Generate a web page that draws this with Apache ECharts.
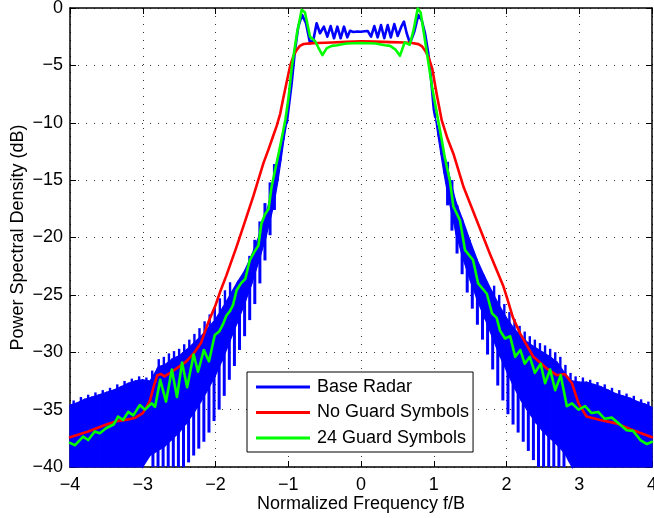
<!DOCTYPE html>
<html><head><meta charset="utf-8">
<script src="https://cdn.jsdelivr.net/npm/echarts@6/dist/echarts.min.js"></script>
<style>html,body{margin:0;padding:0;background:#fff}#c{width:654px;height:518px}</style>
</head><body><div id="c"></div>
<script>
// ---- tick labels ----
const xTickLabels = [-4, -3, -2, -1, 0, 1, 2, 3, 4];
const yTickLabels = [-40, -35, -30, -25, -20, -15, -10, -5, 0];
const legendNames = ['Base Radar', 'No Guard Symbols', '24 Guard Symbols'];

// ---- No Guard Symbols (red) ----
const redX = [-4.0,-3.75,-3.5,-3.35,-3.2,-3.1,-3.0,-2.95,-2.9,-2.85,-2.8,-2.75,-2.7,-2.65,-2.6,-2.5,-2.4,-2.3,-2.2,-2.1,-2.0,-1.94,-1.85,-1.71,-1.6,-1.48,-1.34,-1.27,-1.21,-1.16,-1.11,-1.07,-1.02,-0.976,-0.93,-0.884,-0.84,-0.79,-0.7,-0.6,-0.4,-0.2,0.0,0.2,0.4,0.6,0.7,0.79,0.84,0.88,0.93,0.98,1.04,1.11,1.19,1.27,1.41,1.59,1.77,1.96,2.0,2.09,2.19,2.37,2.55,2.69,2.8,2.9,2.99,3.1,3.29,3.51,3.74,4.0];
const redY = [-37.4,-36.9,-36.3,-36.0,-35.85,-35.7,-35.3,-34.8,-34.2,-33.0,-32.0,-31.9,-32.1,-31.9,-31.7,-31.25,-30.8,-30.1,-29.2,-27.4,-25.9,-24.8,-23.3,-20.8,-18.7,-16.4,-13.5,-12.3,-11.2,-10.3,-9.2,-7.9,-6.4,-5.1,-4.2,-3.66,-3.3,-3.14,-3.08,-3.05,-3.0,-2.95,-2.9,-2.93,-2.97,-3.0,-3.05,-3.15,-3.35,-3.7,-4.3,-5.3,-7.5,-9.8,-11.4,-12.7,-15.6,-18.5,-21.4,-24.3,-25.1,-27.0,-28.4,-30.4,-31.4,-32.0,-31.9,-32.7,-34.45,-35.6,-35.9,-36.2,-36.8,-37.4];

// ---- 24 Guard Symbols (green) ----
const greenX = [-4.0,-3.93,-3.82,-3.75,-3.66,-3.59,-3.5,-3.4,-3.34,-3.27,-3.2,-3.13,-3.04,-2.97,-2.88,-2.83,-2.76,-2.68,-2.6,-2.53,-2.46,-2.39,-2.3,-2.24,-2.16,-2.09,-2.01,-1.95,-1.9,-1.85,-1.8,-1.76,-1.71,-1.65,-1.59,-1.53,-1.47,-1.41,-1.37,-1.32,-1.27,-1.23,-1.16,-1.11,-1.04,-1.0,-0.95,-0.88,-0.815,-0.77,-0.7,-0.63,-0.59,-0.53,-0.47,-0.4,-0.33,-0.2,0.0,0.2,0.33,0.4,0.47,0.536,0.6,0.67,0.72,0.78,0.82,0.86,0.92,0.98,1.06,1.11,1.15,1.22,1.27,1.36,1.43,1.54,1.61,1.73,1.8,1.865,1.91,1.98,2.05,2.12,2.19,2.25,2.32,2.39,2.47,2.53,2.6,2.67,2.745,2.83,2.9,2.99,3.08,3.17,3.26,3.35,3.45,3.56,3.65,3.74,3.84,3.93,4.0];
const greenY = [-37.9,-38.1,-37.35,-37.65,-36.9,-37.05,-36.6,-36.3,-35.6,-35.9,-35.2,-35.5,-34.6,-35.0,-34.45,-34.75,-32.4,-34.3,-31.5,-33.9,-30.9,-33.05,-30.2,-31.7,-29.8,-30.8,-28.5,-28.2,-27.6,-26.8,-26.4,-25.9,-24.6,-24.0,-23.6,-22.0,-21.3,-20.7,-18.8,-18.0,-17.5,-15.6,-13.5,-12.0,-9.76,-8.0,-5.1,-2.2,-0.15,-0.4,-2.5,-2.9,-3.4,-4.1,-3.5,-3.3,-3.25,-3.1,-3.05,-3.1,-3.25,-3.3,-3.6,-4.15,-3.0,-3.2,-2.0,-0.05,-0.4,-2.0,-4.5,-7.0,-9.76,-11.5,-12.96,-15.0,-17.3,-18.5,-21.1,-21.96,-24.0,-24.9,-26.6,-27.0,-28.1,-28.8,-28.6,-30.4,-29.8,-31.0,-30.4,-31.8,-31.0,-32.7,-31.5,-33.3,-32.0,-34.7,-34.45,-35.0,-34.7,-35.3,-35.2,-35.8,-35.7,-36.3,-36.8,-36.85,-37.65,-38.0,-37.8];

// ---- Base Radar (blue): passband trace ----
const blueMidX = [-1.02,-0.953,-0.907,-0.862,-0.81,-0.756,-0.70,-0.655,-0.61,-0.564,-0.51,-0.463,-0.417,-0.371,-0.325,-0.28,-0.234,-0.188,-0.151,-0.105,-0.05,0.0,0.05,0.092,0.138,0.183,0.229,0.275,0.32,0.367,0.41,0.458,0.504,0.558,0.59,0.628,0.674,0.733,0.788,0.834,0.88,0.925,0.96,1.0,1.02];
const blueMidY = [-10.0,-6.56,-3.66,-1.63,-0.6,-1.33,-3.08,-2.79,-1.33,-2.2,-1.63,-2.5,-1.57,-2.64,-1.63,-2.64,-1.63,-2.56,-1.98,-2.09,-2.05,-2.07,-2.03,-2.0,-2.5,-1.57,-2.56,-1.48,-2.64,-1.48,-2.56,-1.4,-2.44,-1.57,-1.19,-2.2,-3.08,-2.06,-0.61,-1.05,-2.2,-3.95,-6.0,-8.8,-9.5];

// ---- Base Radar (blue): dense skirt body, left ----
const blueLX = [-4.0,-3.9,-3.8,-3.7,-3.6,-3.5,-3.4,-3.3,-3.2,-3.1,-3.0,-2.9,-2.85,-2.8,-2.75,-2.7,-2.6,-2.5,-2.4,-2.3,-2.2,-2.1,-2.0,-1.9,-1.8,-1.7,-1.6,-1.5,-1.4,-1.3,-1.2,-1.14,-1.1,-1.06,-1.02];
const blueLUpper = [-34.6,-34.4,-34.1,-33.9,-33.7,-33.5,-33.3,-33.0,-32.7,-32.5,-32.4,-32.5,-32.0,-31.4,-31.2,-31.1,-30.6,-30.3,-29.8,-29.2,-28.6,-27.9,-27.1,-26.1,-25.0,-23.9,-22.9,-21.5,-19.8,-17.8,-15.4,-13.4,-12.0,-10.8,-10.0];
const blueLLower = [-40,-40,-40,-40,-40,-40,-40,-40,-40,-40,-40,-39.0,-38.8,-38.6,-38.4,-38.2,-37.6,-37.0,-36.2,-35.3,-34.3,-33.2,-32.0,-30.6,-29.0,-27.4,-25.8,-24.0,-22.0,-19.8,-17.2,-15.0,-13.3,-11.5,-10.0];

// ---- Base Radar (blue): dense skirt body, right ----
const blueRX = [1.02,1.06,1.1,1.14,1.2,1.3,1.4,1.5,1.6,1.7,1.8,1.9,2.0,2.1,2.2,2.3,2.4,2.5,2.6,2.7,2.8,2.85,2.9,3.0,3.1,3.2,3.3,3.4,3.5,3.6,3.7,3.8,3.9,4.0];
const blueRUpper = [-9.5,-10.6,-11.6,-12.6,-14.2,-16.8,-18.5,-20.3,-22.0,-23.4,-24.7,-25.9,-27.0,-27.9,-28.6,-29.2,-29.6,-30.0,-30.4,-30.9,-31.8,-32.2,-32.5,-32.6,-32.6,-32.8,-33.0,-33.3,-33.6,-33.8,-34.0,-34.3,-34.5,-34.8];
const blueRLower = [-9.5,-11.2,-12.8,-14.4,-16.5,-19.5,-21.8,-23.7,-25.5,-27.0,-28.6,-30.2,-31.6,-33.0,-34.2,-35.2,-36.1,-36.9,-37.5,-38.1,-38.8,-39.4,-40,-40,-40,-40,-40,-40,-40,-40,-40,-40,-40,-40];

// ---- Base Radar (blue): upward teeth on the skirt top ----
const toothX = [-3.95,-3.85,-3.75,-3.65,-3.55,-3.45,-3.35,-3.25,-3.15,-3.05,-2.95,-2.87,-2.78,-2.71,-2.64,-2.57,-2.5,-2.43,-2.36,-2.29,-2.22,-2.15,-2.08,-2.01,-1.94,-1.87,-1.8,
                1.83,1.9,1.97,2.04,2.11,2.18,2.25,2.32,2.39,2.46,2.53,2.6,2.67,2.74,2.81,2.88,2.95,3.05,3.15,3.25,3.35,3.45,3.55,3.65,3.75,3.85,3.95];
const toothTop = [-34.2,-33.9,-33.7,-33.5,-33.3,-33.1,-32.8,-32.5,-32.3,-32.1,-32.2,-31.6,-30.6,-30.4,-30.1,-29.9,-29.7,-29.3,-28.9,-28.4,-27.9,-27.3,-26.7,-26.1,-25.3,-24.6,-23.9,
                  -24.2,-25.0,-25.8,-26.5,-27.1,-27.7,-28.2,-28.6,-28.9,-29.2,-29.4,-29.7,-30.0,-30.4,-31.1,-31.8,-32.1,-32.2,-32.4,-32.6,-32.8,-33.1,-33.3,-33.6,-33.8,-34.1,-34.3];
const toothBase = [-35.0,-34.7,-34.5,-34.3,-34.1,-33.9,-33.6,-33.3,-33.1,-32.9,-33.0,-32.7,-31.8,-31.6,-31.3,-31.1,-30.8,-30.4,-30.0,-29.6,-29.1,-28.5,-27.9,-27.2,-26.6,-25.9,-25.3,
                   -25.6,-26.4,-27.1,-27.8,-28.4,-29.0,-29.5,-29.9,-30.2,-30.5,-30.8,-31.0,-31.3,-31.7,-32.5,-33.0,-33.1,-33.1,-33.3,-33.5,-33.7,-34.0,-34.3,-34.5,-34.8,-35.0,-35.2];

// ---- Base Radar (blue): downward comb spikes below the skirt ----
const combX = [-2.86,-2.79,-2.72,-2.65,-2.58,-2.51,-2.44,-2.37,-2.3,-2.23,-2.16,-2.09,-2.02,-1.95,-1.88,-1.81,-1.74,-1.67,-1.6,-1.53,-1.46,-1.39,-1.32,-1.25,-1.19,
               1.19,1.25,1.32,1.39,1.46,1.53,1.6,1.67,1.74,1.81,1.88,1.95,2.02,2.09,2.16,2.23,2.3,2.37,2.44,2.51,2.58,2.65,2.72,2.79];
const combTop = [-38.0,-37.8,-37.4,-37.0,-36.6,-36.0,-35.4,-34.6,-33.8,-33.0,-32.2,-31.2,-30.2,-29.0,-27.8,-26.6,-25.4,-24.2,-23.0,-21.6,-20.2,-18.6,-17.0,-15.2,-13.6,
                 -13.4,-15.0,-17.2,-19.0,-20.6,-22.0,-23.4,-24.6,-25.8,-27.0,-28.2,-29.4,-30.6,-31.8,-32.8,-33.8,-34.6,-35.4,-36.0,-36.6,-37.2,-37.6,-38.0,-38.4];
const combBottom = [-40,-40,-40,-40,-40,-40,-40,-39.6,-39.0,-38.4,-37.8,-37.0,-36.0,-35.0,-33.8,-32.4,-31.2,-29.8,-28.6,-27.2,-25.8,-24.0,-22.0,-19.8,-17.6,
                    -17.2,-19.4,-21.4,-23.2,-24.8,-26.2,-27.6,-28.9,-30.2,-31.5,-32.9,-34.2,-35.4,-36.3,-37.0,-37.8,-38.6,-39.4,-40,-40,-40,-40,-40,-40];

const BLUE = '#0000ff', RED = '#ff0000', GREEN = '#00ff00';
const FONT = '"Liberation Sans", Arial, Helvetica, sans-serif';
const minus = v => String(v).replace('-', '\u2212');

function pairs(xs, ys) { return xs.map((x, i) => [x, ys[i]]); }

function band(name, xs, up, lo) {
  const data = xs.map((x, i) => [x, up[i], lo[i]]);
  return {
    type: 'custom', name: name, silent: true, z: 2,
    data: data,
    encode: { x: 0, y: [1, 2] },
    renderItem: function (params, api) {
      const i = params.dataIndex;
      if (i >= data.length - 1) return { type: 'group', children: [] };
      const a = data[i], b = data[i + 1];
      const pts = [api.coord([a[0], a[1]]), api.coord([b[0], b[1]]),
                   api.coord([b[0], b[2]]), api.coord([a[0], a[2]])];
      return { type: 'polygon', shape: { points: pts },
               style: { fill: BLUE, stroke: BLUE, lineWidth: 1.2 } };
    }
  };
}

function spikes(name, xs, tops, bottoms, width) {
  return {
    type: 'custom', name: name, silent: true, z: 2,
    data: xs.map((x, i) => [x, tops[i], bottoms[i]]),
    encode: { x: 0, y: [1, 2] },
    renderItem: function (params, api) {
      const p1 = api.coord([api.value(0), api.value(1)]);
      const p2 = api.coord([api.value(0), api.value(2)]);
      return { type: 'line', shape: { x1: p1[0], y1: p1[1], x2: p2[0], y2: p2[1] },
               style: { stroke: BLUE, lineWidth: width, lineCap: 'butt' } };
    }
  };
}

function lineSeries(name, xs, ys, color, z) {
  return {
    type: 'line', name: name, data: pairs(xs, ys), z: z,
    showSymbol: false, symbol: 'none', smooth: false, sampling: null,
    lineStyle: { color: color, width: 2.6, join: 'round', cap: 'round' },
    itemStyle: { color: color }
  };
}

const axisCommon = {
  axisLine: { show: true, onZero: false, lineStyle: { color: '#000', width: 1.5 } },
  axisTick: { show: true, inside: true, length: 6, lineStyle: { color: '#000', width: 1 } },
  minorTick: { show: false }
};

const chart = echarts.init(document.getElementById('c'), null, { renderer: 'canvas' });
chart.setOption({
  animation: false,
  backgroundColor: '#fff',
  grid: { left: 70, right: 2, top: 8, bottom: 51, containLabel: false, outerBoundsMode: 'none' },
  xAxis: [
    Object.assign({}, axisCommon, {
      type: 'value', position: 'bottom',
      min: xTickLabels[0], max: xTickLabels[xTickLabels.length - 1], interval: 1,
      name: 'Normalized Frequency f/B', nameLocation: 'middle', nameGap: 28, nameMoveOverlap: false,
      nameTextStyle: { fontFamily: FONT, fontSize: 18, color: '#000' },
      axisLabel: { margin: 9, fontFamily: FONT, fontSize: 18, color: '#000', formatter: minus },
      splitLine: { show: true, lineStyle: { color: '#333', width: 1, type: [1, 7] } }
    }),
    Object.assign({}, axisCommon, {
      type: 'value', position: 'top',
      min: xTickLabels[0], max: xTickLabels[xTickLabels.length - 1], interval: 1,
      axisLabel: { show: false }, splitLine: { show: false }
    })
  ],
  yAxis: [
    Object.assign({}, axisCommon, {
      type: 'value', position: 'left',
      min: yTickLabels[0], max: yTickLabels[yTickLabels.length - 1], interval: 5,
      name: 'Power Spectral Density (dB)', nameLocation: 'middle', nameGap: 43, nameMoveOverlap: false,
      nameTextStyle: { fontFamily: FONT, fontSize: 18, color: '#000' },
      axisLabel: { margin: 7, fontFamily: FONT, fontSize: 18, color: '#000', formatter: minus },
      splitLine: { show: true, lineStyle: { color: '#333', width: 1, type: [1, 7] } }
    }),
    Object.assign({}, axisCommon, {
      type: 'value', position: 'right',
      min: yTickLabels[0], max: yTickLabels[yTickLabels.length - 1], interval: 5,
      axisLabel: { show: false }, splitLine: { show: false }
    })
  ],
  legend: {
    show: true, data: legendNames, orient: 'vertical',
    left: 247, top: 372,
    backgroundColor: '#fff', borderColor: '#000', borderWidth: 1, borderRadius: 0,
    padding: [5, 4, 4, 9],
    icon: 'rect', itemWidth: 54, itemHeight: 3, itemGap: 5.5,
    textStyle: { fontFamily: FONT, fontSize: 18, color: '#000', lineHeight: 20, padding: [0, 0, 0, 2] }
  },
  series: [
    band('bandL', blueLX, blueLUpper, blueLLower),
    band('bandR', blueRX, blueRUpper, blueRLower),
    spikes('teeth', toothX, toothTop, toothBase, 2.4),
    spikes('comb', combX, combTop, combBottom, 3.0),
    lineSeries(legendNames[0], blueMidX, blueMidY, BLUE, 3),
    lineSeries(legendNames[1], redX, redY, RED, 4),
    lineSeries(legendNames[2], greenX, greenY, GREEN, 5)
  ]
});
</script>
</body></html>
